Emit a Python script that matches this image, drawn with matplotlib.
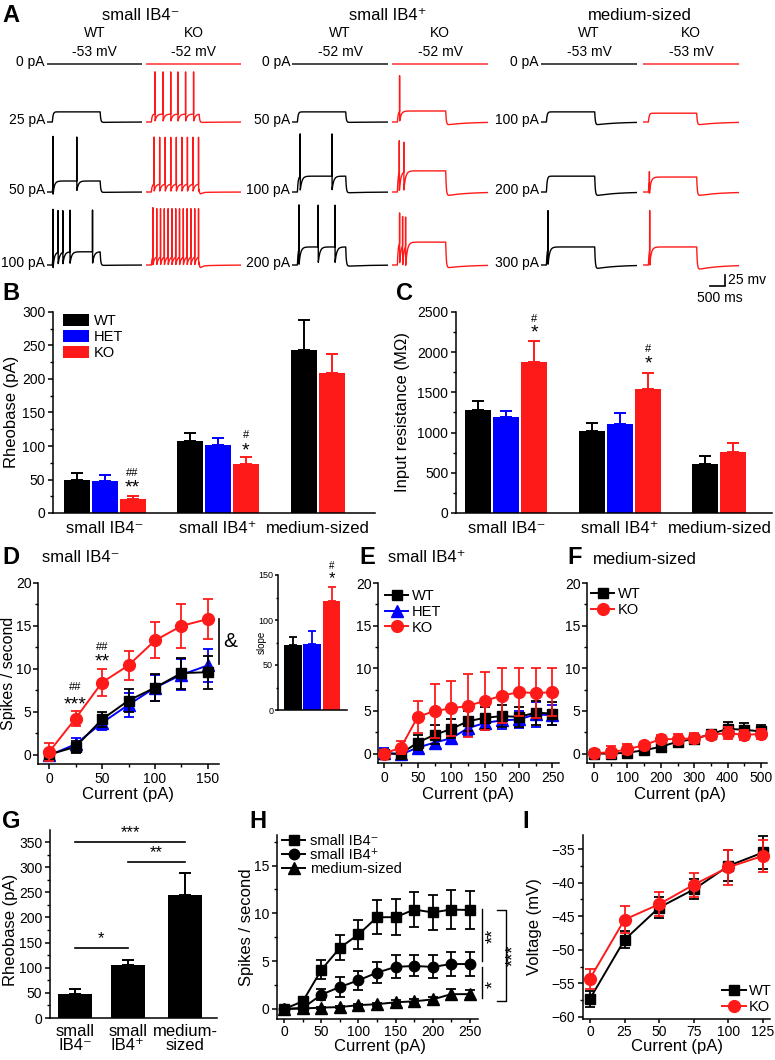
import numpy as np
import matplotlib
matplotlib.use("Agg")
import matplotlib.pyplot as plt
from matplotlib.patches import Patch
from matplotlib.lines import Line2D
from matplotlib.ticker import MultipleLocator

plt.rcParams['font.family'] = ['Liberation Sans', 'DejaVu Sans']
plt.rcParams['axes.linewidth'] = 1.1
for a in ('xtick', 'ytick'):
    plt.rcParams[a + '.major.width'] = 1.1
    plt.rcParams[a + '.minor.width'] = 1.0
    plt.rcParams[a + '.major.size'] = 3.5
    plt.rcParams[a + '.minor.size'] = 2.0
    plt.rcParams[a + '.labelsize'] = 10
plt.rcParams['xtick.major.pad'] = 2.5
plt.rcParams['ytick.major.pad'] = 2.0

BLACK, BLUE, RED = '#000000', '#0000ff', '#ff1a1a'

# ---------------- data ----------------
# Panel A : example traces (ms / mV)
TRACE_MS = 3200
STEP_ON, STEP_OFF = 180, 1790
A_GROUPS = ['small IB4⁻', 'small IB4⁺', 'medium-sized']
A_GENOS = ['WT', 'KO', 'WT', 'KO', 'WT', 'KO']
A_VREST = ['-53 mV', '-52 mV', '-52 mV', '-52 mV', '-53 mV', '-53 mV']
A_CURRENTS = [['0 pA', '25 pA', '50 pA', '100 pA'],
              ['0 pA', '50 pA', '100 pA', '200 pA'],
              ['0 pA', '100 pA', '200 pA', '300 pA']]
A_PLATEAU = [[0, 23, 25, 30], [0, 18, 18, 20], [0, 23, 36, 41],
             [0, 25, 48, 52], [0, 23, 36, 41], [0, 20, 34, 41]]
A_UNDERSHOOT = [[0, 1, 1, 1], [0, 1, 1, 2], [0, 1, 2, 3],
                [0, 7, 9, 7], [0, 7, 9, 9], [0, 7, 9, 11]]
A_SPIKE_TOP = [[0, 0, 125, 125], [0, 114, 125, 130], [0, 0, 132, 136],
               [0, 105, 116, 118], [0, 0, 0, 123], [0, 0, 45, 123]]
A_SPIKES = [
    [[], [], [200, 1000], [200, 370, 530, 770, 1530]],
    [[], [300, 570, 830, 1070, 1330, 1600],
     [270, 457, 644, 831, 1018, 1205, 1392, 1579, 1766],
     [230, 358, 486, 614, 742, 870, 998, 1126, 1254, 1382, 1510, 1638, 1766]],
    [[], [], [270, 1330], [230, 870, 1430]],
    [[], [250], [240, 390], [250, 350, 450]],
    [[], [], [], [230]],
    [[], [], [210], [220]],
]

# Panel B : rheobase (pA)
B_GROUPS = ['small IB4⁻', 'small IB4⁺', 'medium-sized']
B_WT, B_WT_ERR = [50, 107, 244], [9, 12, 44]
B_HET, B_HET_ERR = [48, 102], [8, 10]
B_KO, B_KO_ERR = [21, 73, 209], [4, 10, 28]

# Panel C : input resistance (MOhm)
C_WT, C_WT_ERR = [1275, 1020, 608], [115, 97, 99]
C_HET, C_HET_ERR = [1200, 1105], [70, 135]
C_KO, C_KO_ERR = [1875, 1540, 757], [260, 197, 111]

# Panel D : small IB4- firing
D_X = [0, 25, 50, 75, 100, 125, 150]
D_WT = [0.0, 0.9, 4.1, 6.3, 7.8, 9.5, 9.6]
D_WT_ERR = [0.2, 0.7, 0.9, 1.3, 1.6, 1.8, 1.9]
D_HET = [-0.1, 1.2, 3.7, 5.8, 7.8, 9.3, 10.4]
D_HET_ERR = [0.3, 0.7, 0.8, 1.4, 1.5, 1.8, 1.9]
D_KO = [0.3, 4.2, 8.4, 10.4, 13.3, 15.0, 15.8]
D_KO_ERR = [1.0, 0.9, 1.6, 1.7, 2.1, 2.6, 2.3]
SLOPE = [72, 73, 121]
SLOPE_ERR = [9, 15, 16]

# Panel E : small IB4+ firing
E_X = [0, 25, 50, 75, 100, 125, 150, 175, 200, 225, 250]
E_WT = [0.0, 0.0, 1.3, 2.2, 2.9, 3.8, 4.2, 4.4, 4.3, 4.8, 4.7]
E_WT_ERR = [0.2, 0.3, 0.9, 1.1, 1.1, 1.2, 1.3, 1.3, 1.2, 1.4, 1.3]
E_HET = [0.1, -0.1, 0.7, 1.3, 1.8, 3.0, 3.6, 3.9, 4.0, 4.6, 4.5]
E_HET_ERR = [0.5, 0.4, 0.5, 0.6, 0.6, 0.9, 0.8, 1.0, 1.0, 1.5, 1.2]
E_KO = [0.0, 0.7, 4.3, 5.0, 5.3, 5.6, 6.2, 6.8, 7.2, 7.1, 7.2]
E_KO_ERR = [0.4, 0.8, 1.9, 3.2, 3.2, 3.7, 3.4, 3.2, 2.8, 2.9, 2.8]

# Panel F : medium-sized firing
F_X = [0, 50, 100, 150, 200, 250, 300, 350, 400, 450, 500]
F_WT = [0.0, 0.0, 0.1, 0.4, 0.8, 1.4, 1.7, 2.3, 2.9, 2.8, 2.6]
F_WT_ERR = [0.2, 0.5, 0.3, 0.3, 0.4, 0.5, 0.5, 0.5, 0.8, 0.8, 0.7]
F_KO = [0.05, 0.15, 0.5, 1.0, 1.7, 1.7, 1.8, 2.2, 2.4, 2.2, 2.3]
F_KO_ERR = [0.2, 0.7, 0.6, 0.4, 0.5, 0.6, 0.6, 0.5, 0.7, 0.6, 0.6]

# Panel G : rheobase by neuron type (WT)
G_GROUPS = ['small\nIB4⁻', 'small\nIB4⁺', 'medium-\nsized']
G_MEAN = [48, 105, 244]
G_ERR = [9, 10, 45]

# Panel H : firing by neuron type (WT)
H_X = [0, 25, 50, 75, 100, 125, 150, 175, 200, 225, 250]
H_SMALL_NEG = [0.0, 0.8, 4.1, 6.4, 7.8, 9.6, 9.6, 10.4, 10.1, 10.4, 10.35]
H_SMALL_NEG_ERR = [0.2, 0.2, 1.0, 1.3, 1.55, 1.75, 1.9, 1.85, 1.85, 2.0, 1.95]
H_SMALL_POS = [0.0, 0.1, 1.5, 2.3, 3.0, 3.8, 4.4, 4.5, 4.4, 4.7, 4.7]
H_SMALL_POS_ERR = [0.1, 0.1, 0.6, 1.0, 1.0, 1.1, 1.2, 1.1, 1.2, 1.3, 1.3]
H_MEDIUM = [0.0, 0.05, 0.14, 0.2, 0.4, 0.5, 0.7, 0.8, 1.0, 1.55, 1.55]
H_MEDIUM_ERR = [0.05, 0.05, 0.1, 0.1, 0.15, 0.15, 0.2, 0.2, 0.3, 0.5, 0.4]

# Panel I : voltage vs current
I_X = [0, 25, 50, 75, 100, 125]
I_WT = [-57.3, -48.5, -43.7, -41.0, -37.5, -35.5]
I_WT_ERR = [1.2, 1.3, 1.6, 1.5, 2.3, 2.5]
I_KO = [-54.3, -45.5, -43.2, -40.3, -37.7, -36.0]
I_KO_ERR = [1.5, 2.0, 1.8, 1.8, 2.6, 2.4]

# ---------------- figure helpers ----------------
W, H = 775, 1060
fig = plt.figure(figsize=(W / 100, H / 100), dpi=100)


def add_ax(l, t, r, b):
    return fig.add_axes([l / W, 1 - b / H, (r - l) / W, (b - t) / H])


def ftext(x, y, s, **kw):
    kw.setdefault('ha', 'center')
    kw.setdefault('va', 'center')
    return fig.text(x / W, 1 - y / H, s, **kw)


def letter(x, y, s):
    ftext(x, y, s, ha='left', fontsize=17, fontweight='bold')


def clean(ax):
    ax.spines['top'].set_visible(False)
    ax.spines['right'].set_visible(False)


# ---------------- panel A ----------------
def make_trace(plateau, spikes, top, under):
    t = np.arange(0, TRACE_MS, 1.0)
    v = np.zeros_like(t)
    on = (t >= STEP_ON) & (t < STEP_OFF)
    v[on] = plateau * (1 - np.exp(-(t[on] - STEP_ON) / 25.0))
    v_end = plateau * (1 - np.exp(-(STEP_OFF - STEP_ON) / 25.0))
    off = t >= STEP_OFF
    d = t[off] - STEP_OFF
    v[off] = v_end * np.exp(-d / 20.0) - under * (1 - np.exp(-d / 20.0)) * np.exp(-d / 700.0)
    out = v.copy()
    ahp = 0.85 * plateau
    for ts in spikes:
        d = t - ts
        h = top - np.interp(ts, t, v)
        shape = np.where(d < 0, 0.0,
                 np.where(d < 3, h * d / 3.0,
                 np.where(d < 7, h - (h + ahp) * (d - 3) / 4.0,
                          -ahp * np.exp(-(d - 7) / 55.0))))
        out += shape
    return t, out


A_COLS_PX = [(47, 142), (146, 241), (292, 388), (392, 488), (541, 637), (643, 739)]
AX_TOP, AX_BOT = 30, 300
MVPX = 25 / 11.0
ROW_PX = [64, 122, 192, 265]
letter(2, 15, 'A')
for gi, gx in enumerate([141, 388, 640]):
    ftext(gx, 15, A_GROUPS[gi], fontsize=12)
for ci, (l, r) in enumerate(A_COLS_PX):
    ax = add_ax(l, AX_TOP, r, AX_BOT)
    ax.set_xlim(0, TRACE_MS)
    ax.set_ylim(-(AX_BOT - AX_TOP) * MVPX, 0)
    ax.axis('off')
    color = BLACK if ci % 2 == 0 else RED
    cx = (l + r) / 2
    ftext(cx, 33, A_GENOS[ci], fontsize=10)
    ftext(cx, 52, A_VREST[ci], fontsize=10)
    for ri in range(4):
        t, v = make_trace(A_PLATEAU[ci][ri], A_SPIKES[ci][ri],
                          A_SPIKE_TOP[ci][ri], A_UNDERSHOOT[ci][ri])
        off = -(ROW_PX[ri] - AX_TOP) * MVPX
        ax.plot(t, v + off, color=color, lw=1.0)
        if ci % 2 == 0:
            ftext(l - 2, ROW_PX[ri] - 2, A_CURRENTS[ci // 2][ri], ha='right', fontsize=10)
    if ci == 5:
        t0 = (710 - l) / (r - l) * TRACE_MS
        yb = -(286 - AX_TOP) * MVPX
        ax.plot([t0, t0 + 500, t0 + 500], [yb, yb, yb + 25], color=BLACK, lw=1.2,
                clip_on=False, solid_joinstyle='miter')
ftext(728, 280, '25 mv', ha='left', fontsize=10)
ftext(720, 298, '500 ms', fontsize=10)


# ---------------- panel B ----------------
def grouped_bars(ax, centers, series, errs, colors, width=0.93):
    for si, (vals, ee, col) in enumerate(zip(series, errs, colors)):
        xs, ys, es = [], [], []
        for gi, val in enumerate(vals):
            present = [k for k, s in enumerate(series) if len(s) > gi]
            n = len(present)
            idx = present.index(si)
            xs.append(centers[gi] + (idx - (n - 1) / 2.0))
            ys.append(val)
            es.append(ee[gi])
        ax.bar(xs, ys, width=width, color=col, edgecolor='none', zorder=2)
        ax.errorbar(xs, ys, yerr=[np.zeros(len(es)), es], fmt='none', ecolor=col,
                    elinewidth=1.4, capsize=4, capthick=1.4, zorder=1)


letter(2, 294, 'B')
axB = add_ax(53, 312, 375, 513)
clean(axB)
grouped_bars(axB, [1.84, 5.89, 9.45], [B_WT, B_HET, B_KO],
             [B_WT_ERR, B_HET_ERR, B_KO_ERR], [BLACK, BLUE, RED])
axB.set_xlim(0, 11.5)
axB.set_ylim(0, 300)
axB.yaxis.set_major_locator(MultipleLocator(50))
axB.yaxis.set_minor_locator(MultipleLocator(25))
axB.set_xticks([1.84, 5.89, 9.45])
axB.set_xticklabels(B_GROUPS, fontsize=12)
axB.tick_params(axis='x', length=0, pad=6)
ftext(12, 412, 'Rheobase (pA)', rotation=90, fontsize=12)
axB.legend(handles=[Patch(facecolor=c, edgecolor='none', label=n)
                    for c, n in zip([BLACK, BLUE, RED], ['WT', 'HET', 'KO'])],
           loc='upper left', bbox_to_anchor=(63 / W, 1 - 314 / H),
           bbox_transform=fig.transFigure, frameon=False, fontsize=10.5,
           borderpad=0, borderaxespad=0, handlelength=1.8, handleheight=0.9,
           labelspacing=0.12, handletextpad=0.3)
bx_ko1 = 1.84 + 1
bx_ko2 = 5.89 + 1
axB.text(bx_ko1, 60, '##', ha='center', va='center', fontsize=8)
axB.text(bx_ko1, 38, '**', ha='center', va='center', fontsize=14)
axB.text(bx_ko2, 117, '#', ha='center', va='center', fontsize=8)
axB.text(bx_ko2, 93, '*', ha='center', va='center', fontsize=14)

# ---------------- panel C ----------------
letter(396, 294, 'C')
axC = add_ax(456, 312, 772, 513)
clean(axC)
grouped_bars(axC, [1.80, 5.86, 9.41], [C_WT, C_HET, C_KO],
             [C_WT_ERR, C_HET_ERR, C_KO_ERR], [BLACK, BLUE, RED])
axC.set_xlim(0, 11.29)
axC.set_ylim(0, 2500)
axC.yaxis.set_major_locator(MultipleLocator(500))
axC.yaxis.set_minor_locator(MultipleLocator(250))
axC.set_xticks([1.80, 5.86, 9.41])
axC.set_xticklabels(B_GROUPS, fontsize=12)
axC.tick_params(axis='x', length=0, pad=6)
ftext(402, 412, 'Input resistance (MΩ)', rotation=90, fontsize=12)
axC.text(2.80, 2419, '#', ha='center', va='center', fontsize=8)
axC.text(2.80, 2240, '*', ha='center', va='center', fontsize=14)
axC.text(6.86, 2035, '#', ha='center', va='center', fontsize=8)
axC.text(6.86, 1850, '*', ha='center', va='center', fontsize=14)


# ---------------- line panels helper ----------------
def eline(ax, x, y, e, color, marker, ms, z):
    ax.errorbar(x, y, yerr=e, color=color, marker=marker, ms=ms, mec=color, mfc=color,
                lw=1.4, elinewidth=1.3, capsize=3.5, capthick=1.3, zorder=z)


def firing_axes(ax, xlim, xmaj, xmin):
    clean(ax)
    ax.set_xlim(*xlim)
    ax.set_ylim(-1.1, 20)
    ax.xaxis.set_major_locator(MultipleLocator(xmaj))
    ax.xaxis.set_minor_locator(MultipleLocator(xmin))
    ax.yaxis.set_major_locator(MultipleLocator(5))
    ax.yaxis.set_minor_locator(MultipleLocator(2.5))
    ax.tick_params(axis='y', which='major', pad=1.2)


# ---------------- panel D ----------------
letter(2, 558, 'D')
ftext(42, 558, 'small IB4⁻', ha='left', fontsize=12)
axD = add_ax(38, 583, 219, 764)
firing_axes(axD, (-10.4, 160.4), 50, 25)
eline(axD, D_X, D_HET, D_HET_ERR, BLUE, '^', 8, 3)
eline(axD, D_X, D_WT, D_WT_ERR, BLACK, 's', 7, 4)
eline(axD, D_X, D_KO, D_KO_ERR, RED, 'o', 8.5, 5)
axD.text(25, 7.9, '##', ha='center', va='center', fontsize=8)
axD.text(25, 5.8, '***', ha='center', va='center', fontsize=14)
axD.text(50, 12.5, '##', ha='center', va='center', fontsize=8)
axD.text(50, 10.8, '**', ha='center', va='center', fontsize=14)
axD.plot([160, 160], [10.5, 15.8], color=BLACK, lw=1.2, clip_on=False)
axD.text(171, 13.2, '&', ha='center', va='center', fontsize=15, clip_on=False)
ftext(9, 673, 'Spikes / second', rotation=90, fontsize=11.5)
ftext(128, 795, 'Current (pA)', fontsize=12)

axDi = add_ax(278, 575, 347, 710)
clean(axDi)
axDi.bar([0.83, 1.89, 2.97], SLOPE, width=0.97, color=[BLACK, BLUE, RED], edgecolor='none', zorder=2)
for xx, yy, ee, cc in zip([0.83, 1.89, 2.97], SLOPE, SLOPE_ERR, [BLACK, BLUE, RED]):
    axDi.errorbar([xx], [yy], yerr=[[0], [ee]], fmt='none', ecolor=cc,
                  elinewidth=1.3, capsize=3, capthick=1.3, zorder=1)
axDi.set_xlim(0, 3.83)
axDi.set_ylim(0, 150)
axDi.set_xticks([])
axDi.yaxis.set_major_locator(MultipleLocator(50))
axDi.yaxis.set_minor_locator(MultipleLocator(25))
axDi.tick_params(axis='y', labelsize=6.5, length=2.5, pad=1)
axDi.tick_params(axis='y', which='minor', length=1.5)
axDi.text(2.97, 160, '#', ha='center', va='center', fontsize=7, clip_on=False)
axDi.text(2.97, 146, '*', ha='center', va='center', fontsize=12, clip_on=False)
ftext(262, 642, 'slope', rotation=90, fontsize=7)

# ---------------- panel E ----------------
letter(359, 558, 'E')
ftext(388, 558, 'small IB4⁺', ha='left', fontsize=12)
axE = add_ax(378, 583, 559, 763)
firing_axes(axE, (-8.9, 259.7), 50, 25)
eline(axE, E_X, E_HET, E_HET_ERR, BLUE, '^', 8, 3)
eline(axE, E_X, E_WT, E_WT_ERR, BLACK, 's', 7, 4)
eline(axE, E_X, E_KO, E_KO_ERR, RED, 'o', 8.5, 5)
axE.legend(handles=[Line2D([], [], color=BLACK, marker='s', ms=7, lw=1.4, label='WT'),
                    Line2D([], [], color=BLUE, marker='^', ms=8, lw=1.4, label='HET'),
                    Line2D([], [], color=RED, marker='o', ms=8.5, lw=1.4, label='KO')],
           loc='upper left', bbox_to_anchor=(385 / W, 1 - 589 / H),
           bbox_transform=fig.transFigure, frameon=False, fontsize=10.5,
           borderpad=0, borderaxespad=0, handlelength=1.6, labelspacing=0.12,
           handletextpad=0.25)
ftext(468, 795, 'Current (pA)', fontsize=12)

# ---------------- panel F ----------------
letter(567, 558, 'F')
ftext(593, 560, 'medium-sized', ha='left', fontsize=12)
axF = add_ax(587, 583, 767, 763)
firing_axes(axF, (-21, 518), 100, 50)
eline(axF, F_X, F_WT, F_WT_ERR, BLACK, 's', 7, 4)
eline(axF, F_X, F_KO, F_KO_ERR, RED, 'o', 8.5, 5)
axF.legend(handles=[Line2D([], [], color=BLACK, marker='s', ms=7, lw=1.4, label='WT'),
                    Line2D([], [], color=RED, marker='o', ms=8.5, lw=1.4, label='KO')],
           loc='upper left', bbox_to_anchor=(591 / W, 1 - 587 / H),
           bbox_transform=fig.transFigure, frameon=False, fontsize=10.5,
           borderpad=0, borderaxespad=0, handlelength=1.6, labelspacing=0.12,
           handletextpad=0.25)
ftext(680, 795, 'Current (pA)', fontsize=12)

# ---------------- panel G ----------------
letter(2, 822, 'G')
axG = add_ax(50, 830, 217, 1018)
clean(axG)
G_POS = [0.735, 2.29, 3.97]
axG.bar(G_POS, G_MEAN, width=1.0, color=BLACK, edgecolor='none', zorder=2)
axG.errorbar(G_POS, G_MEAN, yerr=[np.zeros(3), G_ERR], fmt='none', ecolor=BLACK,
             elinewidth=1.4, capsize=4.5, capthick=1.4, zorder=1)
axG.set_xlim(0, 4.91)
axG.set_ylim(0, 374)
axG.yaxis.set_major_locator(MultipleLocator(50))
axG.yaxis.set_minor_locator(MultipleLocator(25))
axG.set_xticks(G_POS)
axG.set_xticklabels(G_GROUPS, fontsize=12, linespacing=0.95)
axG.tick_params(axis='x', length=0, pad=4)
for (a, b, yl, s) in [(0, 2, 350.6, '***'), (1, 2, 310.8, '**'), (0, 1, 139.4, '*')]:
    axG.plot([G_POS[a], G_POS[b]], [yl, yl], color=BLACK, lw=1.2, clip_on=False)
    axG.text((G_POS[a] + G_POS[b]) / 2, yl + 4, s, ha='center', va='bottom',
             fontsize=12, clip_on=False)
ftext(11, 930, 'Rheobase (pA)', rotation=90, fontsize=12)

# ---------------- panel H ----------------
letter(249, 822, 'H')
axH = add_ax(277, 835, 478, 1019)
clean(axH)
axH.set_xlim(-9.8, 261)
axH.set_ylim(-1.05, 18.2)
axH.xaxis.set_major_locator(MultipleLocator(50))
axH.xaxis.set_minor_locator(MultipleLocator(25))
axH.yaxis.set_major_locator(MultipleLocator(5))
axH.yaxis.set_minor_locator(MultipleLocator(2.5))
axH.tick_params(axis='x', which='major', length=3, pad=1.5)
eline(axH, H_X, H_MEDIUM, H_MEDIUM_ERR, BLACK, '^', 8, 3)
eline(axH, H_X, H_SMALL_POS, H_SMALL_POS_ERR, BLACK, 'o', 7.5, 4)
eline(axH, H_X, H_SMALL_NEG, H_SMALL_NEG_ERR, BLACK, 's', 7, 5)
axH.legend(handles=[Line2D([], [], color=BLACK, marker='s', ms=7, lw=1.4, label='small IB4⁻'),
                    Line2D([], [], color=BLACK, marker='o', ms=7.5, lw=1.4, label='small IB4⁺'),
                    Line2D([], [], color=BLACK, marker='^', ms=8, lw=1.4, label='medium-sized')],
           loc='upper left', bbox_to_anchor=(282 / W, 1 - 834 / H),
           bbox_transform=fig.transFigure, frameon=False, fontsize=10.5,
           borderpad=0, borderaxespad=0, handlelength=1.6, labelspacing=0.0,
           handletextpad=0.3)
for (xx, y0, y1) in [(266.4, 10.5, 5.0), (266.4, 4.4, 1.15)]:
    axH.plot([xx, xx], [y0, y1], color=BLACK, lw=1.0, clip_on=False)
axH.plot([286.7, 298.8, 298.8, 286.7], [10.4, 10.4, 0.84, 0.84], color=BLACK, lw=1.0,
         clip_on=False)
axH.text(282, 7.6, '**', rotation=90, ha='center', va='center', fontsize=13, clip_on=False)
axH.text(282, 2.6, '*', rotation=90, ha='center', va='center', fontsize=13, clip_on=False)
axH.text(309, 5.6, '***', rotation=90, ha='center', va='center', fontsize=13, clip_on=False)
ftext(247, 927, 'Spikes / second', rotation=90, fontsize=12)
ftext(380, 1046, 'Current (pA)', fontsize=12)

# ---------------- panel I ----------------
letter(522, 822, 'I')
axI = add_ax(583, 835, 770, 1019)
clean(axI)
axI.set_xlim(-5, 130)
axI.set_ylim(-60.3, -32.9)
axI.xaxis.set_major_locator(MultipleLocator(25))
axI.yaxis.set_major_locator(MultipleLocator(5))
axI.yaxis.set_minor_locator(MultipleLocator(2.5))
axI.tick_params(axis='x', which='major', length=3, pad=1.5)
eline(axI, I_X, I_WT, I_WT_ERR, BLACK, 's', 7, 4)
eline(axI, I_X, I_KO, I_KO_ERR, RED, 'o', 8.5, 5)
axI.legend(handles=[Line2D([], [], color=BLACK, marker='s', ms=7, lw=1.4, label='WT'),
                    Line2D([], [], color=RED, marker='o', ms=8.5, lw=1.4, label='KO')],
           loc='lower right', bbox_to_anchor=(772 / W, 1 - 1014 / H),
           bbox_transform=fig.transFigure, frameon=False, fontsize=10.5,
           borderpad=0, borderaxespad=0, handlelength=1.6, labelspacing=0.12,
           handletextpad=0.25)
ftext(535, 927, 'Voltage (mV)', rotation=90, fontsize=12)
ftext(677, 1046, 'Current (pA)', fontsize=12)

fig.savefig('out.png', dpi=100)
